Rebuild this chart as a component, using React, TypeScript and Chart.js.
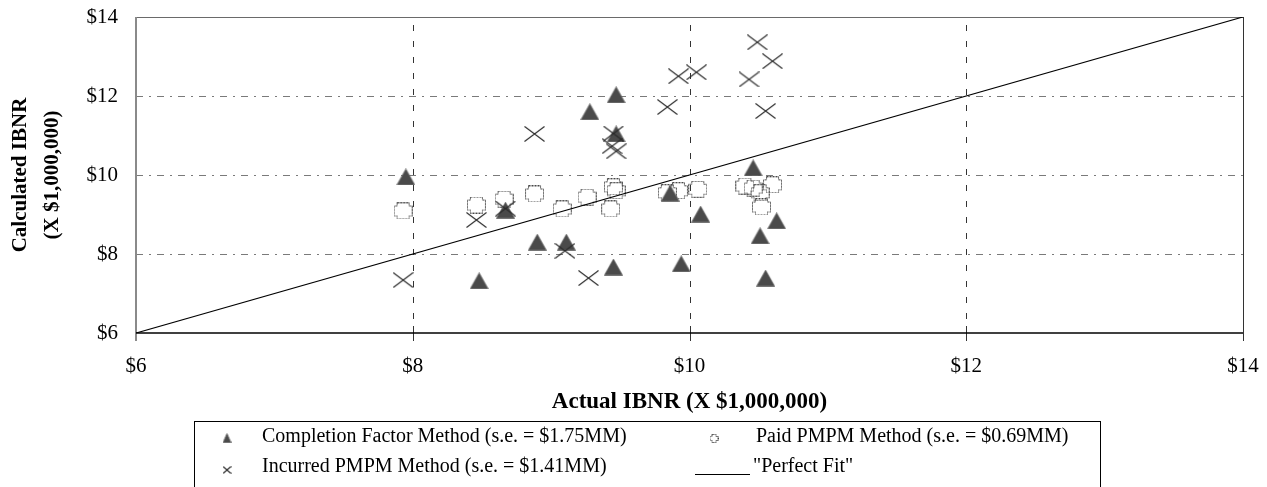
import React, { useEffect, useRef } from "react";
import { Chart, registerables } from "chart.js";

Chart.register(...registerables);

// ---------- data ----------
const completionX = [7.95, 8.48, 8.67, 8.9, 9.11, 9.28, 9.45, 9.47, 9.47, 9.86, 9.94, 10.08, 10.46, 10.51, 10.55, 10.63];
const completionY = [9.95, 7.32, 9.11, 8.3, 8.3, 11.6, 7.67, 12.03, 11.04, 9.54, 7.75, 9.01, 10.18, 8.46, 7.39, 8.84];

const incurredX = [7.93, 8.46, 8.67, 8.88, 9.1, 9.27, 9.45, 9.44, 9.47, 9.84, 9.92, 10.05, 10.43, 10.49, 10.55, 10.6];
const incurredY = [7.34, 8.86, 9.15, 11.04, 8.08, 7.39, 11.05, 10.73, 10.6, 11.72, 12.5, 12.6, 12.42, 13.36, 11.62, 12.88];

const paidX = [7.93, 8.46, 8.66, 8.88, 9.08, 9.26, 9.43, 9.45, 9.47, 9.84, 9.92, 10.06, 10.4, 10.46, 10.51, 10.52, 10.6];
const paidY = [9.09, 9.24, 9.39, 9.52, 9.14, 9.44, 9.14, 9.7, 9.6, 9.55, 9.6, 9.64, 9.72, 9.67, 9.55, 9.19, 9.75];

const perfectFitX = [6, 14];
const perfectFitY = [6, 14];

const axisTicks = [6, 8, 10, 12, 14];
const gridValues = [8, 10, 12];

const seriesLabels = [
  "Completion Factor Method (s.e. = $1.75MM)",
  "Paid PMPM Method (s.e. = $0.69MM)",
  "Incurred PMPM Method (s.e. = $1.41MM)",
  '"Perfect Fit"',
];
const xTitle = "Actual IBNR (X $1,000,000)";
const yTitle = ["Calculated IBNR", "(X $1,000,000)"];

const FONT = "'Liberation Serif', 'Times New Roman', serif";

// ---------- marker images ----------
function makeTriangle(w: number, h: number) {
  const c = document.createElement("canvas");
  c.width = w;
  c.height = h;
  const ctx = c.getContext("2d")!;
  ctx.beginPath();
  ctx.moveTo(w / 2, 0.5);
  ctx.lineTo(w - 0.5, h - 0.5);
  ctx.lineTo(0.5, h - 0.5);
  ctx.closePath();
  ctx.fillStyle = "#4a4a4a";
  ctx.fill();
  ctx.strokeStyle = "#6a6a6a";
  ctx.lineWidth = 0.8;
  ctx.stroke();
  return c;
}

function makeCross(w: number, h: number) {
  const c = document.createElement("canvas");
  c.width = w;
  c.height = h;
  const ctx = c.getContext("2d")!;
  ctx.strokeStyle = "#2a2a2a";
  ctx.lineWidth = 1.1;
  ctx.beginPath();
  ctx.moveTo(0.5, 0.5);
  ctx.lineTo(w - 0.5, h - 0.5);
  ctx.moveTo(w - 0.5, 0.5);
  ctx.lineTo(0.5, h - 0.5);
  ctx.stroke();
  return c;
}

function makePlus(w: number, h: number, n: number) {
  const c = document.createElement("canvas");
  c.width = w;
  c.height = h;
  const ctx = c.getContext("2d")!;
  const a = 0.5;
  const W = w - 0.5;
  const H = h - 0.5;
  ctx.beginPath();
  ctx.moveTo(a + n, a);
  ctx.lineTo(W - n, a);
  ctx.lineTo(W - n, a + n);
  ctx.lineTo(W, a + n);
  ctx.lineTo(W, H - n);
  ctx.lineTo(W - n, H - n);
  ctx.lineTo(W - n, H);
  ctx.lineTo(a + n, H);
  ctx.lineTo(a + n, H - n);
  ctx.lineTo(a, H - n);
  ctx.lineTo(a, a + n);
  ctx.lineTo(a + n, a + n);
  ctx.closePath();
  ctx.setLineDash([2, 1]);
  ctx.strokeStyle = "#444";
  ctx.lineWidth = 1;
  ctx.stroke();
  return c;
}

function zip(xs: number[], ys: number[]) {
  return xs.map((x, i) => ({ x, y: ys[i] }));
}

export default function App() {
  const ref = useRef<HTMLCanvasElement | null>(null);

  useEffect(() => {
    if (!ref.current) return;
    const tri = makeTriangle(19, 17);
    const cross = makeCross(21, 16);
    const plus = makePlus(19, 17, 3);
    const triS = makeTriangle(9, 10);
    const crossS = makeCross(9, 8);
    const plusS = makePlus(9, 9, 2);

    const framePlugin = {
      id: "frame",
      beforeDatasetsDraw(chart: any) {
        const { ctx, chartArea } = chart;
        const xs = chart.scales.x;
        const ys = chart.scales.y;
        const { left, right, top, bottom } = chartArea;
        ctx.save();
        ctx.strokeStyle = "#7a7a7a";
        ctx.lineWidth = 1;
        ctx.setLineDash([7, 6, 2, 6]);
        gridValues.forEach((v) => {
          const y = Math.round(ys.getPixelForValue(v)) + 0.5;
          ctx.beginPath();
          ctx.moveTo(left, y);
          ctx.lineTo(right, y);
          ctx.stroke();
        });
        ctx.strokeStyle = "#333";
        ctx.setLineDash([6, 10]);
        gridValues.forEach((v) => {
          const x = Math.round(xs.getPixelForValue(v)) + 0.5;
          ctx.beginPath();
          ctx.moveTo(x, top + 8);
          ctx.lineTo(x, bottom);
          ctx.stroke();
        });
        ctx.setLineDash([]);
        ctx.strokeStyle = "#6a6a6a";
        ctx.lineWidth = 1.2;
        const yt = Math.round(ys.getPixelForValue(14)) + 0.5;
        ctx.beginPath();
        ctx.moveTo(left, yt);
        ctx.lineTo(right, yt);
        ctx.stroke();
        ctx.strokeStyle = "#333";
        ctx.lineWidth = 1;
        const xr = Math.round(xs.getPixelForValue(14)) + 0.5;
        ctx.beginPath();
        ctx.moveTo(xr, top);
        ctx.lineTo(xr, bottom + 8);
        ctx.stroke();
        gridValues.forEach((v) => {
          const x = Math.round(xs.getPixelForValue(v)) + 0.5;
          ctx.beginPath();
          ctx.moveTo(x, bottom - 7);
          ctx.lineTo(x, bottom + 8);
          ctx.stroke();
        });
        ctx.strokeStyle = "#8a8a8a";
        ctx.lineWidth = 2;
        const xl = Math.round(xs.getPixelForValue(6));
        ctx.beginPath();
        ctx.moveTo(xl, top);
        ctx.lineTo(xl, bottom + 8);
        ctx.stroke();
        ctx.strokeStyle = "#000";
        ctx.lineWidth = 1.5;
        const yb = Math.round(ys.getPixelForValue(6));
        ctx.beginPath();
        ctx.moveTo(left, yb);
        ctx.lineTo(right, yb);
        ctx.stroke();
        ctx.restore();
      },
      afterDraw(chart: any) {
        const { ctx } = chart;
        ctx.save();
        ctx.strokeStyle = "#000";
        ctx.lineWidth = 1;
        ctx.strokeRect(186.5, 413.5, 906, 120);
        ctx.fillStyle = "#000";
        ctx.font = `20px ${FONT}`;
        ctx.textBaseline = "middle";
        ctx.textAlign = "left";
        const r1 = 429;
        const r2 = 459;
        ctx.drawImage(triS, 219 - 4.5, r1 - 4);
        ctx.fillText(seriesLabels[0], 254, r1);
        ctx.drawImage(plusS, 706 - 4.5, r1 - 3);
        ctx.fillText(seriesLabels[1], 748, r1);
        ctx.drawImage(crossS, 219 - 4.5, r2 - 1);
        ctx.fillText(seriesLabels[2], 254, r2);
        ctx.beginPath();
        ctx.moveTo(687, r2 + 7.5);
        ctx.lineTo(742, r2 + 7.5);
        ctx.stroke();
        ctx.fillText(seriesLabels[3], 745, r2);
        ctx.restore();
      },
    };

    const chart = new Chart(ref.current, {
      type: "scatter",
      data: {
        datasets: [
          {
            type: "line",
            label: seriesLabels[3],
            data: zip(perfectFitX, perfectFitY),
            borderColor: "#000",
            borderWidth: 1.2,
            pointRadius: 0,
            order: 0,
          },
          {
            label: seriesLabels[2],
            data: zip(incurredX, incurredY),
            pointStyle: cross,
            order: 1,
          },
          {
            label: seriesLabels[0],
            data: zip(completionX, completionY),
            pointStyle: tri,
            order: 2,
          },
          {
            label: seriesLabels[1],
            data: zip(paidX, paidY),
            pointStyle: plus,
            order: 3,
          },
        ] as any,
      },
      options: {
        animation: false,
        responsive: false,
        devicePixelRatio: 1,
        layout: { padding: { left: 0, top: 9, right: 16, bottom: 80 }, autoPadding: false } as any,
        plugins: { legend: { display: false }, tooltip: { enabled: false } },
        scales: {
          x: {
            type: "linear",
            min: 6,
            max: 14,
            afterBuildTicks: (s: any) => {
              s.ticks = axisTicks.map((v) => ({ value: v }));
            },
            afterFit: (s: any) => {
              s.height = 85;
              s.paddingLeft = 0;
              s.paddingRight = 0;
            },
            grid: { display: false },
            border: { display: false },
            ticks: {
              callback: (v: any) => "$" + v,
              font: { family: FONT, size: 21, lineHeight: 1.2 },
              color: "#000",
              padding: 13,
              maxRotation: 0,
            },
            title: {
              display: true,
              text: xTitle,
              font: { family: FONT, size: 23, weight: "bold", lineHeight: 1.2 },
              color: "#000",
              padding: { top: 0, bottom: 2 },
            },
          },
          y: {
            type: "linear",
            min: 6,
            max: 14,
            afterBuildTicks: (s: any) => {
              s.ticks = axisTicks.map((v) => ({ value: v }));
            },
            afterFit: (s: any) => {
              s.width = 128;
              s.paddingTop = 0;
              s.paddingBottom = 0;
            },
            grid: { display: false },
            border: { display: false },
            ticks: {
              callback: (v: any) => "$" + v,
              font: { family: FONT, size: 21, lineHeight: 1.2 },
              color: "#000",
              padding: 10,
            },
            title: {
              display: true,
              text: yTitle,
              font: { family: FONT, size: 21, weight: "bold", lineHeight: 1.5 },
              color: "#000",
              padding: { top: -3, bottom: 0 },
            },
          },
        },
      } as any,
      plugins: [framePlugin],
    });
    return () => chart.destroy();
  }, []);

  return (
    <div style={{ width: 1251, height: 490 }}>
      <canvas ref={ref} width={1251} height={490} style={{ display: "block" }} />
    </div>
  );
}
